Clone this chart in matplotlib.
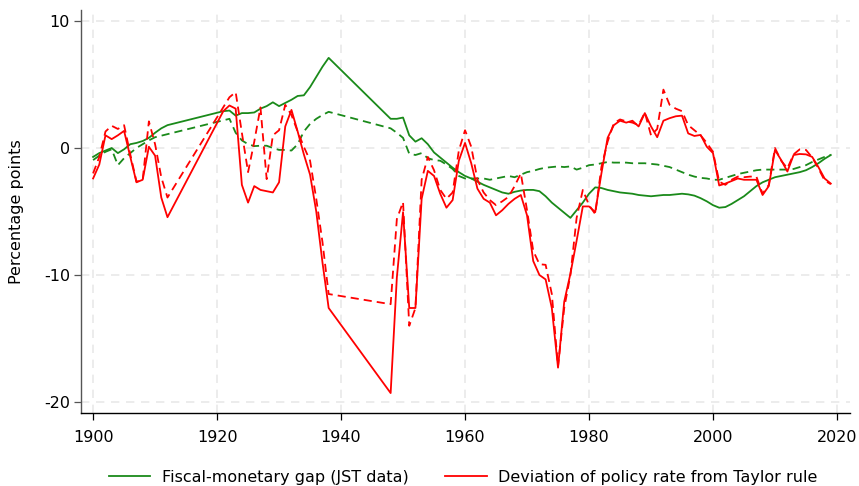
import matplotlib
matplotlib.use("Agg")
import matplotlib.pyplot as plt
import numpy as np

plt.rcParams['font.family'] = ['DejaVu Sans']
plt.rcParams['axes.unicode_minus'] = False

# Fiscal-monetary gap (JST data) - solid green
gs_years = list(range(1900, 1913)) + list(range(1921, 1939)) + list(range(1948, 2020))
gs_vals = [-0.7, -0.4, -0.2, 0.0, -0.4, -0.1, 0.3, 0.4, 0.55, 0.8, 1.2, 1.55, 1.8,
           2.9, 2.95, 2.55, 2.75, 2.75, 2.8, 3.1, 3.3, 3.6, 3.3, 3.55, 3.8, 4.1, 4.15, 4.8, 5.6, 6.4, 7.1,
           2.3, 2.3, 2.4, 1.0, 0.5, 0.77, 0.3, -0.35, -0.75, -1.15, -1.55, -1.9, -2.2, -2.4, -2.65, -2.9,
           -3.1, -3.3, -3.5, -3.6, -3.45, -3.35, -3.3, -3.3, -3.4, -3.8, -4.3, -4.7, -5.1, -5.5, -4.9, -4.3,
           -3.6, -3.1, -3.15, -3.3, -3.4, -3.5, -3.55, -3.6, -3.7, -3.75, -3.8, -3.75, -3.7, -3.7, -3.65,
           -3.6, -3.65, -3.75, -3.95, -4.2, -4.5, -4.7, -4.65, -4.4, -4.1, -3.8, -3.4, -3.0, -2.7, -2.5,
           -2.3, -2.2, -2.1, -2.0, -1.9, -1.75, -1.5, -1.2, -0.85, -0.55]

# Fiscal-monetary gap, alternative measure - dashed green
gd_years = list(range(1900, 1911)) + list(range(1922, 1939)) + list(range(1948, 2020))
gd_vals = [-0.95, -0.6, -0.3, -0.1, -1.35, -0.8, -0.4, 0.0, 0.3, 0.6, 0.85,
           2.3, 1.2, 0.6, 0.3, 0.15, 0.18, 0.18, 0.0, -0.15, -0.15, -0.2, 0.3, 1.3, 1.9, 2.3, 2.6, 2.85,
           1.55, 1.2, 0.8, -0.45, -0.55, -0.4, -0.8, -0.95, -1.0, -1.3, -1.65, -2.2, -2.4, -2.4, -2.4,
           -2.4, -2.5, -2.4, -2.3, -2.2, -2.3, -2.1, -1.9, -1.8, -1.65, -1.55, -1.5, -1.45, -1.5, -1.45,
           -1.7, -1.55, -1.35, -1.3, -1.2, -1.1, -1.15, -1.15, -1.15, -1.2, -1.2, -1.2, -1.25, -1.3,
           -1.4, -1.5, -1.7, -1.9, -2.1, -2.25, -2.35, -2.4, -2.5, -2.5, -2.35, -2.2, -2.05, -1.95,
           -1.85, -1.75, -1.7, -1.7, -1.7, -1.7, -1.7, -1.65, -1.5, -1.35, -1.1, -0.9, -0.7, -0.55]

# Deviation of policy rate from Taylor rule - solid red
rs_years = list(range(1900, 1913)) + list(range(1921, 1939)) + list(range(1948, 2020))
rs_vals = [-2.4, -1.3, 1.0, 0.7, 1.0, 1.35, -0.7, -2.7, -2.5, 0.1, -0.6, -3.9, -5.45,
           2.9, 3.35, 3.1, -2.9, -4.3, -3.0, -3.3, -3.4, -3.5, -2.7, 1.7, 3.0, 1.3, -0.5, -2.1, -5.0, -9.0, -12.6,
           -19.3, -10.2, -5.05, -12.6, -12.6, -4.0, -1.8, -2.2, -3.6, -4.7, -4.1, -1.0, 0.4, -1.2, -3.2,
           -4.0, -4.3, -5.3, -4.9, -4.4, -4.0, -3.7, -5.3, -8.9, -10.0, -10.35, -12.6, -17.3, -12.1, -9.9,
           -7.3, -4.6, -4.6, -5.05, -2.0, 0.8, 1.8, 2.15, 2.0, 2.15, 1.7, 2.75, 1.7, 0.85, 2.15, 2.35,
           2.5, 2.55, 1.15, 0.95, 1.03, 0.1, -0.4, -2.95, -2.8, -2.6, -2.4, -2.5, -2.5, -2.5, -3.7,
           -3.0, -0.15, -0.95, -1.85, -0.55, -0.47, -0.5, -0.7, -1.5, -2.4, -2.8]

# Deviation of policy rate from Taylor rule, alternative - dashed red
rd_years = list(range(1900, 1913)) + list(range(1922, 1939)) + list(range(1948, 2020))
rd_vals = [-2.0, -0.7, 1.3, 1.75, 1.5, 1.8, -0.5, -2.65, -2.5, 2.1, 0.3, -2.3, -3.9,
           4.0, 4.4, 1.2, -1.9, 0.5, 3.2, -2.45, 1.0, 1.4, 3.4, 2.6, 1.3, 0.1, -1.0, -4.0, -7.4, -11.5,
           -12.3, -5.6, -4.25, -14.0, -12.6, -2.5, -0.7, -1.75, -3.3, -4.0, -3.5, -0.2, 1.4, 0.1, -2.5,
           -3.5, -4.1, -4.5, -4.2, -3.85, -3.0, -2.0, -4.9, -8.1, -9.15, -9.2, -11.5, -17.2, -12.6, -10.0,
           -5.5, -3.3, -4.5, -5.2, -1.5, 0.5, 1.95, 2.25, 2.1, 2.0, 1.8, 2.8, 1.0, 1.5, 4.6, 3.4,
           3.1, 2.9, 1.8, 1.4, 1.0, 0.4, -0.3, -2.65, -2.9, -2.5, -2.25, -2.3, -2.25, -2.25, -3.6,
           -2.9, 0.0, -1.0, -1.6, -0.5, -0.1, -0.15, -0.75, -1.6, -2.55, -2.85]

x_ticks = [1900, 1920, 1940, 1960, 1980, 2000, 2020]
y_ticks = [-20, -10, 0, 10]
legend_labels = ["Fiscal-monetary gap (JST data)", "Deviation of policy rate from Taylor rule"]

GREEN = '#1a8a1a'
RED = '#ff0000'
FS = 11.5

fig = plt.figure(figsize=(8.59, 4.86), dpi=100)
ax = fig.add_axes([81/859, 1 - 413/486, (850 - 81)/859, (413 - 10)/486])

dash = (0, (4.5, 2.8))
LW = 1.3
l1, = ax.plot(gs_years, gs_vals, color=GREEN, lw=LW, zorder=3)
ax.plot(gd_years, gd_vals, color=GREEN, lw=LW, linestyle=dash, zorder=3)
l2, = ax.plot(rs_years, rs_vals, color=RED, lw=LW, zorder=4)
ax.plot(rd_years, rd_vals, color=RED, lw=LW, linestyle=dash, zorder=4)

ax.set_xlim(1898.05, 2022.1)
ax.set_ylim(-20.87, 10.87)
ax.set_xticks(x_ticks)
ax.set_yticks(y_ticks)
ax.set_xticklabels([str(v) for v in x_ticks], fontsize=FS)
ax.set_yticklabels([str(v) for v in y_ticks], fontsize=FS)
ax.set_ylabel("Percentage points", fontsize=FS, labelpad=14)

ax.grid(True, color='#e9e9e9', linestyle=(0, (5, 4)), linewidth=1.2, zorder=0)
ax.set_axisbelow(True)
for s in ['top', 'right']:
    ax.spines[s].set_visible(False)
ax.spines['left'].set_color('#555555')
ax.spines['bottom'].set_color('#000000')
ax.spines['left'].set_linewidth(1.0)
ax.spines['bottom'].set_linewidth(1.0)
ax.tick_params(axis='y', direction='out', length=5, width=0.9, color='#555555', pad=3)
ax.tick_params(axis='x', direction='out', length=5, width=0.9, color='#000000', pad=7)

fig.legend([l1, l2], legend_labels, loc='center', bbox_to_anchor=(463/859, 1 - 477/486),
           ncol=2, frameon=False, fontsize=FS, handlelength=2.6, handletextpad=0.7,
           columnspacing=2.3, borderpad=0, borderaxespad=0)

fig.savefig('out.png', dpi=100)
